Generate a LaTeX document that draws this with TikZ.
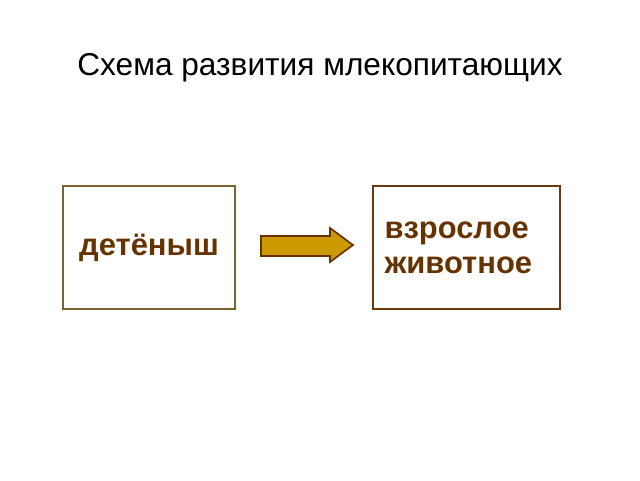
\documentclass[tikz,border=0pt]{standalone}
\usepackage{fontspec}
\setmainfont{Liberation Sans}
\usetikzlibrary{positioning}
\definecolor{oliveline}{HTML}{7A6530}
\definecolor{brownline}{HTML}{6B3A10}
\definecolor{browntext}{HTML}{663300}
\definecolor{gold}{HTML}{CC9900}

\begin{document}
\begin{tikzpicture}[
  stage/.style={draw, line width=1.5pt, minimum height=3.075cm,
                font=\fontsize{22}{25}\selectfont\bfseries, text=browntext},
  growth/.style={draw=browntext, fill=gold, line width=1.2pt, line join=miter}
]
  \useasboundingbox (0,0) rectangle (16,12);
  \node[font=\fontsize{22.5}{26}\selectfont] (title) at (8,10.3)
    {Схема развития млекопитающих};

  \node[stage, draw=oliveline, minimum width=4.3cm] (young) at (3.725,5.8125)
    {детёныш};
  \node[stage, draw=brownline, minimum width=4.675cm, text width=4.1cm,
        align=left] (adult) at (11.6625,5.8125)
    {взрослое\\животное};
  % block arrow between the stages
  \draw[growth] (6.525,6.1) -- (8.25,6.1) -- (8.25,6.3) -- (8.825,5.875)
    -- (8.25,5.45) -- (8.25,5.6) -- (6.525,5.6) -- cycle;
\end{tikzpicture}
\end{document}
